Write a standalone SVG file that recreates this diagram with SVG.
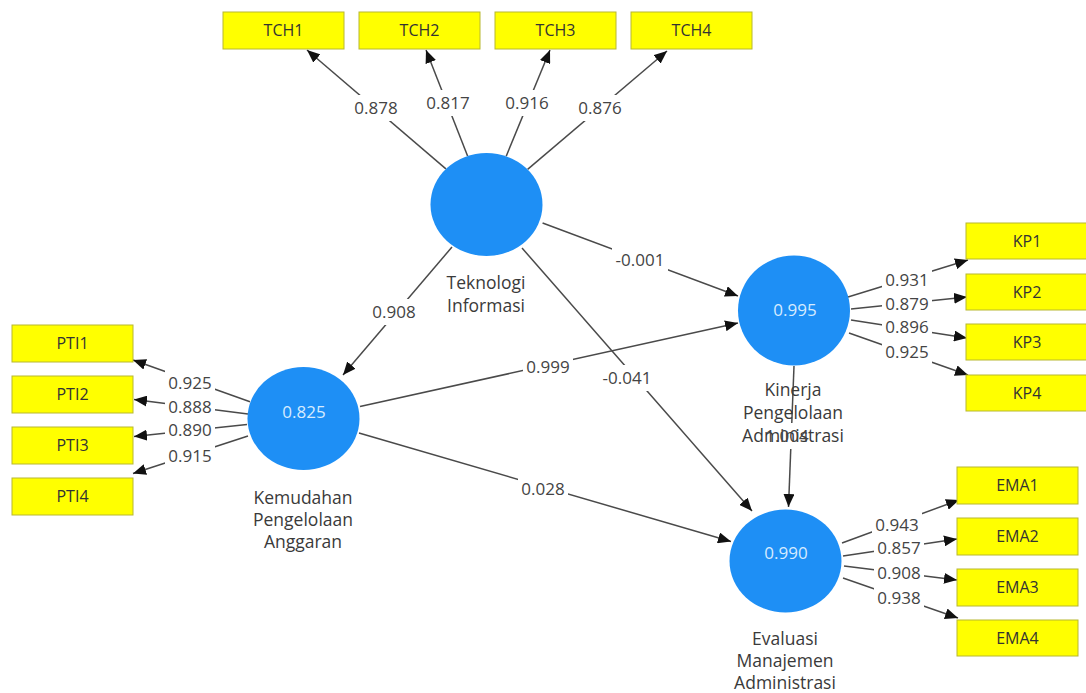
<svg xmlns="http://www.w3.org/2000/svg" width="1086" height="693" viewBox="0 0 1086 693">
<style>
.ind rect{fill:#ffff00;stroke:#b8b830;stroke-width:1}
.ind text{font-family:"Open Sans","Liberation Sans",sans-serif;font-size:16px;fill:#333;text-anchor:middle}
.lv ellipse{fill:#1e8ff5}
.lv .val{font-family:"Open Sans","Liberation Sans",sans-serif;font-size:17px;fill:#d6ebff;text-anchor:middle}
.lv .name{font-family:"Open Sans","Liberation Sans",sans-serif;font-size:17.5px;fill:#3a3a3a;text-anchor:middle}
.conn line{stroke:#4a4a4a;stroke-width:1.5;fill:none;marker-end:url(#arr)}
.lbl text{font-family:"Open Sans","Liberation Sans",sans-serif;font-size:17px;fill:#444;text-anchor:middle}
</style>
<defs>
<marker id="arr" markerUnits="userSpaceOnUse" markerWidth="14" markerHeight="11" refX="13" refY="5.5" orient="auto">
<path d="M0,0 L13,5.5 L0,11 z" fill="#111"/>
</marker>
<mask id="gaps" maskUnits="userSpaceOnUse" x="0" y="0" width="1086" height="693">
<rect x="0" y="0" width="1086" height="693" fill="#fff"/>
<g fill="#000">
<rect x="351" y="95" width="50" height="26"/>
<rect x="423" y="90" width="50" height="26"/>
<rect x="502" y="90" width="50" height="26"/>
<rect x="575" y="95" width="50" height="26"/>
<rect x="369" y="299" width="50" height="26"/>
<rect x="612" y="247" width="56" height="26"/>
<rect x="599" y="365" width="56" height="26"/>
<rect x="523" y="354" width="50" height="26"/>
<rect x="518" y="476" width="50" height="26"/>
<rect x="762" y="423" width="50" height="26"/>
<rect x="165" y="370" width="50" height="26"/>
<rect x="165" y="394" width="50" height="26"/>
<rect x="165" y="417" width="50" height="26"/>
<rect x="165" y="443" width="50" height="26"/>
<rect x="882" y="267" width="50" height="26"/>
<rect x="882" y="291" width="50" height="26"/>
<rect x="882" y="314" width="50" height="26"/>
<rect x="882" y="339" width="50" height="26"/>
<rect x="872" y="512" width="50" height="26"/>
<rect x="874" y="535" width="50" height="26"/>
<rect x="874" y="560" width="50" height="26"/>
<rect x="874" y="585" width="50" height="26"/>
</g>
</mask>
</defs>
<rect x="0" y="0" width="1086" height="693" fill="#fff"/>

<g id="connectors" class="conn" mask="url(#gaps)">
<line x1="445.9" y1="168.9" x2="307" y2="50"/>
<line x1="467.6" y1="156" x2="426" y2="50"/>
<line x1="506.2" y1="156.2" x2="550" y2="50"/>
<line x1="527.6" y1="169.4" x2="667" y2="51"/>
<line x1="250" y1="401.7" x2="133" y2="360"/>
<line x1="248" y1="414" x2="134" y2="399.5"/>
<line x1="247" y1="424.5" x2="134" y2="436.5"/>
<line x1="248" y1="436" x2="133" y2="473.5"/>
<line x1="848" y1="297" x2="968" y2="260"/>
<line x1="851" y1="309" x2="967" y2="297"/>
<line x1="851" y1="320" x2="967" y2="338"/>
<line x1="849" y1="333" x2="968" y2="375"/>
<line x1="842" y1="543" x2="959" y2="500"/>
<line x1="843" y1="556" x2="957" y2="539"/>
<line x1="844" y1="566" x2="957" y2="580"/>
<line x1="843" y1="578" x2="958" y2="618"/>
<line x1="452" y1="247" x2="343" y2="375"/>
<line x1="542.6" y1="223" x2="738" y2="296"/>
<line x1="522" y1="248" x2="752" y2="511"/>
<line x1="360" y1="406.5" x2="738" y2="323"/>
<line x1="359" y1="433" x2="731" y2="541.5"/>
<line x1="794" y1="366" x2="788.5" y2="507"/>
</g>

<g id="labels" class="lbl">
<text x="376" y="114">0.878</text>
<text x="448" y="109">0.817</text>
<text x="527" y="109">0.916</text>
<text x="600" y="114">0.876</text>
<text x="394" y="318">0.908</text>
<text x="640" y="266">-0.001</text>
<text x="627" y="384">-0.041</text>
<text x="548" y="373">0.999</text>
<text x="543" y="495">0.028</text>
<text x="190" y="389">0.925</text>
<text x="190" y="413">0.888</text>
<text x="190" y="436">0.890</text>
<text x="190" y="462">0.915</text>
<text x="907" y="286">0.931</text>
<text x="907" y="310">0.879</text>
<text x="907" y="333">0.896</text>
<text x="907" y="358">0.925</text>
<text x="897" y="531">0.943</text>
<text x="899" y="554">0.857</text>
<text x="899" y="579">0.908</text>
<text x="899" y="604">0.938</text>
</g>

<g id="TCH1" class="ind"><rect x="223" y="12" width="121" height="37"/><text x="283.5" y="36">TCH1</text></g>
<g id="TCH2" class="ind"><rect x="359" y="12" width="121" height="37"/><text x="419.5" y="36">TCH2</text></g>
<g id="TCH3" class="ind"><rect x="495" y="12" width="121" height="37"/><text x="555.5" y="36">TCH3</text></g>
<g id="TCH4" class="ind"><rect x="631" y="12" width="121" height="37"/><text x="691.5" y="36">TCH4</text></g>

<g id="PTI1" class="ind"><rect x="12" y="325" width="121" height="37"/><text x="72.5" y="349">PTI1</text></g>
<g id="PTI2" class="ind"><rect x="12" y="376" width="121" height="37"/><text x="72.5" y="400">PTI2</text></g>
<g id="PTI3" class="ind"><rect x="12" y="427" width="121" height="37"/><text x="72.5" y="451">PTI3</text></g>
<g id="PTI4" class="ind"><rect x="12" y="478" width="121" height="37"/><text x="72.5" y="502">PTI4</text></g>

<g id="KP1" class="ind"><rect x="966" y="223" width="122" height="36"/><text x="1027" y="247">KP1</text></g>
<g id="KP2" class="ind"><rect x="966" y="274" width="122" height="36"/><text x="1027" y="298">KP2</text></g>
<g id="KP3" class="ind"><rect x="966" y="324" width="122" height="36"/><text x="1027" y="348">KP3</text></g>
<g id="KP4" class="ind"><rect x="966" y="375" width="122" height="36"/><text x="1027" y="399">KP4</text></g>

<g id="EMA1" class="ind"><rect x="957" y="467" width="121" height="37"/><text x="1017.5" y="491">EMA1</text></g>
<g id="EMA2" class="ind"><rect x="957" y="518" width="121" height="37"/><text x="1017.5" y="542">EMA2</text></g>
<g id="EMA3" class="ind"><rect x="957" y="569" width="121" height="37"/><text x="1017.5" y="593">EMA3</text></g>
<g id="EMA4" class="ind"><rect x="957" y="620" width="121" height="36"/><text x="1017.5" y="644">EMA4</text></g>

<g id="TI" class="lv">
<ellipse cx="486.5" cy="204.5" rx="56" ry="51.5"/>
<text class="name" x="486" y="289">Teknologi</text>
<text class="name" x="486" y="312">Informasi</text>
</g>
<g id="PTI" class="lv">
<ellipse cx="303.5" cy="418.5" rx="56" ry="51.5"/>
<text class="val" x="304" y="418">0.825</text>
<text class="name" x="303" y="504">Kemudahan</text>
<text class="name" x="303" y="526">Pengelolaan</text>
<text class="name" x="303" y="548">Anggaran</text>
</g>
<g id="KP" class="lv">
<ellipse cx="794" cy="310.5" rx="56" ry="55"/>
<text class="val" x="795" y="316">0.995</text>
<text class="name" x="793" y="396">Kinerja</text>
<text class="name" x="793" y="419">Pengelolaan</text>
<text class="name" x="793" y="442">Administrasi</text>
</g>
<g id="EMA" class="lv">
<ellipse cx="785.5" cy="561" rx="56" ry="51.5"/>
<text class="val" x="786" y="559">0.990</text>
<text class="name" x="785" y="645">Evaluasi</text>
<text class="name" x="785" y="667">Manajemen</text>
<text class="name" x="785" y="689">Administrasi</text>
</g>
<g id="label-1004" class="lbl"><text x="787" y="442">1.004</text></g>
</svg>
